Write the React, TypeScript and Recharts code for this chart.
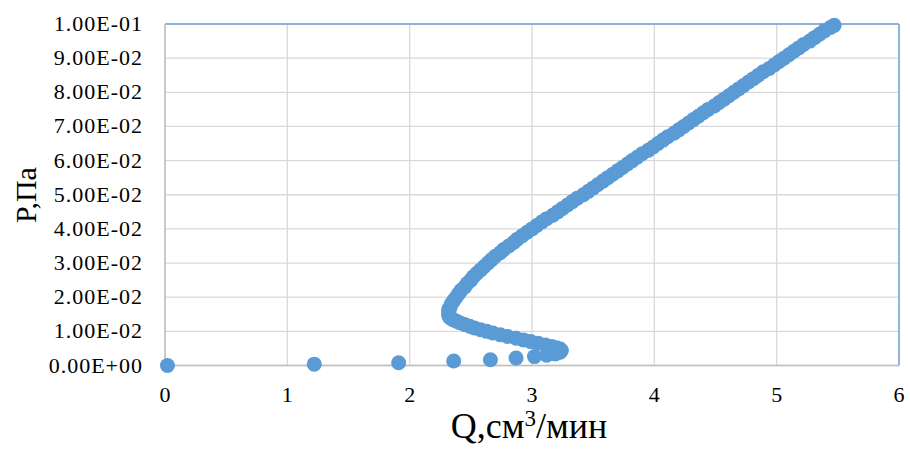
import React from 'react';
import { ScatterChart, Scatter, XAxis, YAxis, CartesianGrid, ReferenceLine, Label } from 'recharts';

// flow rate Q, cm3/min
const qValues = [
  0.02, 1.22, 1.91, 2.36, 2.66, 2.87, 3.02, 3.12, 3.19, 3.23, 3.24,
  3.23, 3.20, 3.16, 3.11, 3.05, 2.99, 2.93, 2.87, 2.80, 2.74, 2.68, 2.63, 2.58, 2.53,
  2.49, 2.45, 2.41, 2.38, 2.35, 2.33, 2.32, 2.32, 2.32, 2.32, 2.32, 2.33, 2.34, 2.36,
  2.38, 2.40, 2.42, 2.45, 2.47, 2.50, 2.52, 2.55, 2.58, 2.61, 2.64, 2.67, 2.70, 2.74,
  2.77, 2.81, 2.85, 2.88, 2.92, 2.96, 3.00, 3.04, 3.08, 3.12, 3.17, 3.21, 3.25, 3.29,
  3.33, 3.37, 3.42, 3.46, 3.50, 3.54, 3.58, 3.62, 3.66, 3.70, 3.74, 3.78, 3.82, 3.86,
  3.90, 3.95, 3.99, 4.03, 4.07, 4.11, 4.16, 4.20, 4.24, 4.28, 4.32, 4.36, 4.40, 4.44,
  4.49, 4.53, 4.57, 4.61, 4.65, 4.69, 4.73, 4.77, 4.81, 4.85, 4.89, 4.94, 4.98, 5.02,
  5.06, 5.10, 5.14, 5.18, 5.22, 5.27, 5.31, 5.35, 5.39, 5.44, 5.47,
];

// pressure P, Pa
const pValues = [
  0.0, 0.0004, 0.0008, 0.0013, 0.0017, 0.0022, 0.0026, 0.0030, 0.0034, 0.0039, 0.0044,
  0.0048, 0.0052, 0.0056, 0.0060, 0.0065, 0.0070, 0.0075, 0.0080, 0.0085, 0.0090, 0.0095, 0.0100, 0.0105, 0.0110,
  0.0115, 0.0120, 0.0125, 0.0130, 0.0135, 0.0140, 0.0145, 0.0150, 0.0155, 0.0160, 0.0165, 0.0170, 0.0180, 0.0190,
  0.020, 0.021, 0.022, 0.023, 0.024, 0.025, 0.026, 0.027, 0.028, 0.029, 0.030, 0.031, 0.032, 0.033,
  0.034, 0.035, 0.036, 0.037, 0.038, 0.039, 0.040, 0.041, 0.042, 0.043, 0.044, 0.045, 0.046, 0.047,
  0.048, 0.049, 0.050, 0.051, 0.052, 0.053, 0.054, 0.055, 0.056, 0.057, 0.058, 0.059, 0.060, 0.061,
  0.062, 0.063, 0.064, 0.065, 0.066, 0.067, 0.068, 0.069, 0.070, 0.071, 0.072, 0.073, 0.074, 0.075,
  0.076, 0.077, 0.078, 0.079, 0.080, 0.081, 0.082, 0.083, 0.084, 0.085, 0.086, 0.087, 0.088, 0.089,
  0.090, 0.091, 0.092, 0.093, 0.094, 0.095, 0.096, 0.097, 0.098, 0.099, 0.0996,
];

const xTicks = [0, 1, 2, 3, 4, 5, 6];
const yTicks = [0, 0.01, 0.02, 0.03, 0.04, 0.05, 0.06, 0.07, 0.08, 0.09, 0.1];

const data = qValues.map((q, i) => ({ q, p: pValues[i] }));

const FONT = "'Liberation Serif', 'Times New Roman', serif";
const DOT = '#5b9bd5';
const textStyle = { fontFamily: FONT, fill: '#000' };

// excel-like scientific format: 1.00E-02, 0.00E+00
const sci = (v: number) => {
  if (v === 0) return '0.00E+00';
  const [m, e] = v.toExponential(2).split('e');
  const n = parseInt(e, 10);
  const sign = n < 0 ? '-' : '+';
  return `${m}E${sign}${String(Math.abs(n)).padStart(2, '0')}`;
};

const Dot = (props: any) => <circle cx={props.cx} cy={props.cy} r={7.5} fill={DOT} />;

const XTick = (props: any) => (
  <text x={props.x} y={props.y + 15} textAnchor="middle" fontSize={22} style={textStyle}>
    {props.payload.value}
  </text>
);

const YTick = (props: any) => (
  <text
    x={props.x}
    y={props.y + 7}
    textAnchor="end"
    fontSize={22}
    letterSpacing={1}
    style={textStyle}
  >
    {sci(props.payload.value)}
  </text>
);

const App: React.FC = () => {
  return (
    <div style={{ position: 'absolute', left: 0, top: 0, background: '#fff', fontFamily: FONT }}>
      <ScatterChart width={910} height={459} margin={{ top: 24, right: 11, left: 0, bottom: 0 }}>
        <CartesianGrid stroke="#d9d9d9" strokeWidth={1.3} />
        <XAxis
          type="number"
          dataKey="q"
          domain={[0, 6]}
          ticks={xTicks}
          height={93.5}
          tickSize={0}
          tickMargin={21}
          stroke="#bfbfbf"
          strokeWidth={1.5}
          tick={<XTick />}
          label={
            <Label
              content={() => (
                <text x={529} y={438} textAnchor="middle" fontSize={36} style={textStyle}>
                  Q,см<tspan dy={-12} fontSize={23}>3</tspan>
                  <tspan dy={12}>/мин</tspan>
                </text>
              )}
            />
          }
        />
        <YAxis
          type="number"
          dataKey="p"
          domain={[0, 0.1]}
          ticks={yTicks}
          width={165}
          tickSize={0}
          tickMargin={22}
          stroke="#bfbfbf"
          strokeWidth={1.5}
          tick={<YTick />}
          label={
            <Label
              content={() => (
                <text
                  x={25}
                  y={195}
                  transform="rotate(-90 25 195)"
                  textAnchor="middle"
                  dominantBaseline="central"
                  fontSize={30}
                  style={textStyle}
                >
                  P,Па
                </text>
              )}
            />
          }
        />
        <ReferenceLine y={0.1} stroke="#73a2d9" strokeWidth={1.5} />
        <ReferenceLine x={6} stroke="#73a2d9" strokeWidth={1.5} />
        <Scatter data={data} fill={DOT} shape={Dot} isAnimationActive={false} />
      </ScatterChart>
    </div>
  );
};

export default App;
